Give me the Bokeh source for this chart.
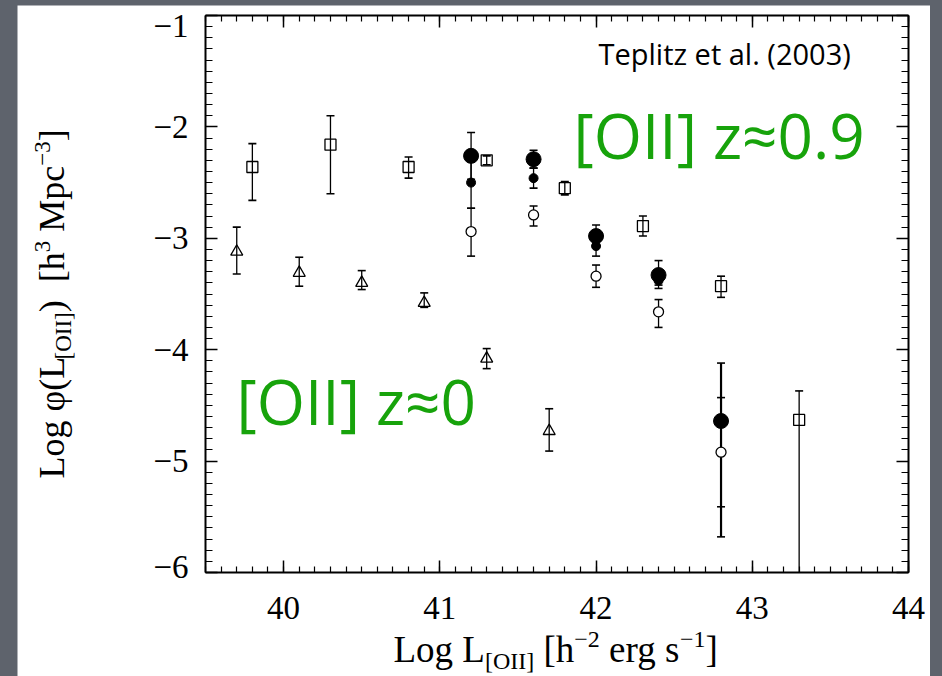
from bokeh.plotting import figure
from bokeh.models import FixedTicker, LinearAxis, Label, Range1d
from bokeh.layouts import column
from bokeh.embed import file_html
from bokeh.resources import INLINE

# ---- data: log luminosity function of [OII] emitters ----
# open squares
sq_x = [39.8, 40.3, 40.8, 41.3, 41.8, 42.3, 42.8, 43.3]
sq_y = [-2.36, -2.16, -2.36, -2.30, -2.55, -2.89, -3.43, -4.63]
sq_hi = [-2.15, -1.90, -2.27, -2.26, -2.49, -2.80, -3.34, -4.37]
sq_lo = [-2.66, -2.60, -2.46, -2.34, -2.61, -2.98, -3.53, -6.00]

# open triangles (local sample)
tri_x = [39.7, 40.1, 40.5, 40.9, 41.3, 41.7]
tri_y = [-3.12, -3.31, -3.40, -3.58, -4.08, -4.73]
tri_hi = [-2.90, -3.17, -3.29, -3.49, -3.99, -4.53]
tri_lo = [-3.32, -3.43, -3.46, -3.62, -4.17, -4.91]

# large filled circles
big_x = [41.2, 41.6, 42.0, 42.4, 42.8]
big_y = [-2.26, -2.29, -2.98, -3.33, -4.64]
big_hi = [-2.05, -2.21, -2.88, -3.20, -4.12]
big_lo = [-2.47, -2.37, -3.08, -3.42, -5.68]

# small filled circles
sm_x = [41.2, 41.6, 42.0, 42.4]
sm_y = [-2.50, -2.46, -3.07, -3.38]
sm_hi = [-2.27, -2.37, -2.98, -3.31]
sm_lo = [-2.73, -2.55, -3.16, -3.45]

# open circles
oc_x = [41.2, 41.6, 42.0, 42.4, 42.8]
oc_y = [-2.94, -2.79, -3.34, -3.66, -4.92]
oc_hi = [-2.73, -2.71, -3.24, -3.55, -4.43]
oc_lo = [-3.16, -2.89, -3.44, -3.80, -5.41]

x_major = [40, 41, 42, 43, 44]
y_major = [-6, -5, -4, -3, -2, -1]
y_inner = [-5, -4, -3, -2]
y_ends = [-6, -1]


def minus(v):
    return "\u2212" + str(abs(v))


# plotted box (data units)
X0, X1 = 39.5, 44.0
Y0, Y1 = -6.0, -1.0

BG = "#5e636c"
GREEN = "#17a30b"
SERIF = "Liberation Serif"

# The canvas is 913x671 px; the plotted box sits at px 188..891 (x), 10..567 (y).
W, H = 913, 671
BL, BR, BT, BB = 188, 891, 10, 567
XPP = (X1 - X0) / (BR - BL)
YPP = (Y1 - Y0) / (BB - BT)
x_range = Range1d(X0 - BL * XPP, X1 + (W - BR) * XPP)
y_range = Range1d(Y0 - (H - BB) * YPP, Y1 + BT * YPP)

# The end labels (-1, -6) sit slightly inside the box: a tighter scale for them.
LT, LB = 20, 561
LPP = (Y1 - Y0) / (LB - LT)
end_range = Range1d(Y0 - (H - LB) * LPP, Y1 + LT * LPP)

p = figure(width=W, height=H, margin=(5, 12, 0, 17),
           x_range=x_range, y_range=y_range,
           output_backend="svg", toolbar_location=None,
           x_axis_location=None, y_axis_location=None,
           min_border=0, min_border_left=0, min_border_right=0,
           min_border_top=0, min_border_bottom=0)
p.extra_y_ranges = {"ends": end_range}
p.border_fill_color = "white"
p.background_fill_color = "white"
p.outline_line_color = None
p.xgrid.visible = False
p.ygrid.visible = False

x_minor = [round(X0 + 0.1 * i, 1) for i in range(46)]
y_minor = [round(Y0 + 0.1 * i, 1) for i in range(51)]


def make_axis(side, labels):
    horiz = side in ("below", "above")
    ticker = FixedTicker(ticks=x_major if horiz else y_major,
                         minor_ticks=x_minor if horiz else y_minor)
    loc = {"below": Y0, "above": Y1, "left": X0, "right": X1}[side]
    ax = LinearAxis(ticker=ticker, fixed_location=loc,
                    bounds=(X0, X1) if horiz else (Y0, Y1))
    ax.axis_line_width = 2
    ax.axis_line_color = "black"
    ax.major_tick_in = 12
    ax.major_tick_out = 0
    ax.minor_tick_in = 6 if horiz else 7
    ax.minor_tick_out = 0
    ax.major_tick_line_width = 1.5
    ax.minor_tick_line_width = 1.2
    ax.major_tick_line_color = "black"
    ax.minor_tick_line_color = "black"
    if labels:
        ax.major_label_text_font = SERIF
        ax.major_label_text_font_size = "33px"
        ax.major_label_text_color = "black"
    else:
        ax.major_label_overrides = {t: "" for t in range(-6, 45)}
        ax.major_label_standoff = 0
    p.add_layout(ax, side)
    return ax


bottom = make_axis("below", True)
bottom.major_label_standoff = 24
make_axis("above", False)
left = make_axis("left", True)
left.major_label_standoff = 17
left.major_label_overrides = {v: (minus(v) if v in y_inner else "") for v in y_major}
make_axis("right", False)

# labels for the two end ticks of the vertical axis
ends_ax = LinearAxis(ticker=FixedTicker(ticks=y_ends, minor_ticks=[]),
                     y_range_name="ends", fixed_location=X0)
ends_ax.axis_line_color = None
ends_ax.major_tick_line_color = None
ends_ax.minor_tick_line_color = None
ends_ax.major_tick_in = 0
ends_ax.major_tick_out = 0
ends_ax.major_label_standoff = 17
ends_ax.major_label_text_font = SERIF
ends_ax.major_label_text_font_size = "33px"
ends_ax.major_label_text_color = "black"
ends_ax.major_label_overrides = {v: minus(v) for v in y_ends}
p.add_layout(ends_ax, "left")


def errbars(xs, ys_hi, ys_lo, lw=1.3, cap=8, floor=Y0):
    p.segment(x0=xs, y0=ys_lo, x1=xs, y1=ys_hi, line_color="black", line_width=lw)
    p.scatter(x=xs, y=ys_hi, marker="dash", size=cap, line_color="black", line_width=1.6)
    lx = [x for x, lo in zip(xs, ys_lo) if lo > floor]
    ly = [lo for lo in ys_lo if lo > floor]
    p.scatter(x=lx, y=ly, marker="dash", size=cap, line_color="black", line_width=1.6)


errbars(sq_x, sq_hi, sq_lo)
errbars(tri_x, tri_hi, tri_lo)
errbars(oc_x, oc_hi, oc_lo)
errbars(sm_x, sm_hi, sm_lo)
errbars(big_x[:-1], big_hi[:-1], big_lo[:-1])
errbars(big_x[-1:], big_hi[-1:], big_lo[-1:], lw=2.2)

p.scatter(x=sq_x, y=sq_y, marker="square", size=11, fill_color=None,
          line_color="black", line_width=1.3)
p.scatter(x=tri_x, y=tri_y, marker="triangle", size=12, fill_color=None,
          line_color="black", line_width=1.3)
p.scatter(x=oc_x, y=oc_y, marker="circle", size=10, fill_color="white",
          line_color="black", line_width=1.3)
p.scatter(x=sm_x, y=sm_y, marker="circle", size=9, fill_color="black",
          line_color="black")
p.scatter(x=big_x, y=big_y, marker="circle", size=15, fill_color="black",
          line_color="black")

# ---- text placement: window pixels -> data units ----
OX, OY = 17, 5  # canvas offset inside the page
DROP = 0.285    # baseline correction, as a fraction of the font size


def put(text, px, py, size, font=SERIF, color="black", baseline="alphabetic",
        angle=0.0):
    x = x_range.start + (px - OX) * XPP
    y = y_range.end - (py - OY) * YPP
    p.add_layout(Label(x=x, y=y, text=text, text_font=font,
                       text_font_size=f"{size}px", text_color=color,
                       text_align="left", text_baseline=baseline, angle=angle))


# Times-metric advance widths (em) for the title pieces
BIG, SMALL = 37, 24
x_title = [("Log L", BIG, 0, 2.472), ("[OII]", SMALL, 7, 2.054),
           ("[h", BIG, 0, 0.833), ("\u22122", SMALL, -14, 1.064),
           ("erg s", BIG, 0, 1.916), ("\u22121", SMALL, -14, 1.064),
           ("]", BIG, 0, 0.333)]
gaps_x = [0, 0, 0.25 * BIG, 0, 0.25 * BIG, 0, 0]
cx = 393
for (txt, sz, shift, w), g in zip(x_title, gaps_x):
    cx += g
    put(txt, cx, 660 + shift - DROP * sz, sz)
    cx += w * sz

YB, YS = 36, 23
y_title = [("Log \u03c6(L", YB, 0, 3.305), ("[OII]", YS, 8, 2.054),
           (")", YB, 0, 0.333), ("[h", YB, 0, 0.833), ("3", YS, -13, 0.5),
           ("Mpc", YB, 0, 1.833), ("\u22123", YS, -13, 1.064),
           ("]", YB, 0, 0.333)]
gaps_y = [0, 0, 0, 0.5 * YB, 0, 0.25 * YB, 0, 0]
cy = 478
for (txt, sz, shift, w), g in zip(y_title, gaps_y):
    cy -= g
    put(txt, 62 + shift - DROP * sz, cy, sz, angle=1.5707963)
    cy -= w * sz

put("Teplitz et al. (2003)", 598, 53, 29, font="Open Sans", baseline="middle")
put("[OII] z\u22480.9", 573, 134, 62, font="Open Sans", color=GREEN, baseline="middle")
put("[OII] z\u22480", 236, 400, 62, font="Open Sans", color=GREEN, baseline="middle")

page = column(p, styles={"background-color": BG})
open("out.html", "w").write(file_html(page, INLINE))
